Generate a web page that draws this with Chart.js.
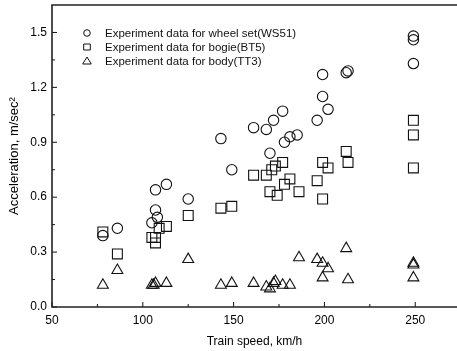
<!DOCTYPE html>
<html>
<head>
<meta charset="utf-8">
<script src="https://cdn.jsdelivr.net/npm/chart.js@4.4.1/dist/chart.umd.min.js"></script>
<style>
  html, body { margin: 0; padding: 0; background: #fff; }
  #wrap { width: 457px; height: 351px; }
</style>
</head>
<body>
<div id="wrap"><canvas id="myChart"></canvas></div>
<script>
// wheel set (WS51)
const wsSpeed = [78, 86, 105, 107, 108, 107, 113, 125, 143, 149, 161, 168, 170, 172, 177, 178, 181, 185, 196, 199, 202, 199, 212, 213, 249, 249, 249];
const wsAcc   = [0.39, 0.43, 0.46, 0.53, 0.49, 0.64, 0.67, 0.59, 0.92, 0.75, 0.98, 0.97, 0.84, 1.02, 1.07, 0.90, 0.93, 0.94, 1.02, 1.15, 1.08, 1.27, 1.28, 1.29, 1.33, 1.46, 1.48];
// bogie (BT5)
const btSpeed = [78, 86, 105, 107, 107, 109, 113, 125, 143, 149, 161, 168, 170, 171, 173, 174, 177, 178, 181, 186, 196, 199, 199, 202, 212, 213, 249, 249, 249];
const btAcc   = [0.41, 0.29, 0.38, 0.38, 0.35, 0.43, 0.44, 0.50, 0.54, 0.55, 0.72, 0.72, 0.63, 0.75, 0.77, 0.61, 0.79, 0.67, 0.70, 0.63, 0.69, 0.79, 0.59, 0.76, 0.85, 0.79, 1.02, 0.94, 0.76];
// body (TT3)
const ttSpeed = [78, 86, 105, 106, 107, 113, 125, 143, 149, 161, 168, 170, 172, 173, 177, 181, 186, 196, 199, 199, 202, 212, 213, 249, 249, 249];
const ttAcc   = [0.12, 0.20, 0.12, 0.12, 0.13, 0.13, 0.26, 0.12, 0.13, 0.13, 0.11, 0.10, 0.13, 0.14, 0.12, 0.12, 0.27, 0.26, 0.24, 0.16, 0.21, 0.32, 0.15, 0.24, 0.23, 0.16];

const legendLabels = ['Experiment data for wheel set(WS51)', 'Experiment data for bogie(BT5)', 'Experiment data for body(TT3)'];
const xTicks = [50, 100, 150, 200, 250];
const yTicks = [0, 0.3, 0.6, 0.9, 1.2, 1.5];

const FONT = '"Liberation Sans", Arial, sans-serif';

function pts(xs, ys) {
  return xs.map((x, i) => ({x: x, y: ys[i]}));
}

function ds(label, xs, ys, style, r) {
  return {
    label: label,
    data: pts(xs, ys),
    pointStyle: style,
    pointRadius: r,
    pointHoverRadius: r,
    pointBackgroundColor: 'rgba(0,0,0,0)',
    pointBorderColor: '#111',
    pointBorderWidth: 1.1
  };
}

// frame + inward ticks, plus the legend inside the plot
const frameTicks = {
  id: 'frameTicks',
  afterDatasetsDraw(chart) {
    const {ctx, chartArea: a, scales: {x, y}} = chart;
    ctx.save();
    ctx.strokeStyle = '#111';
    ctx.lineWidth = 1;
    ctx.beginPath();
    for (let i = 0; i < xTicks.length; i++) {
      const v = xTicks[i];
      let px = x.getPixelForValue(v);
      ctx.moveTo(px, a.bottom); ctx.lineTo(px, a.bottom - 5);
      px = x.getPixelForValue(v + 25);
      if (px < a.right) { ctx.moveTo(px, a.bottom); ctx.lineTo(px, a.bottom - 3); }
    }
    for (let i = 0; i < yTicks.length; i++) {
      const v = yTicks[i];
      let py = y.getPixelForValue(v);
      ctx.moveTo(a.left, py); ctx.lineTo(a.left + 5, py);
      py = y.getPixelForValue(v + 0.15);
      if (py > a.top) { ctx.moveTo(a.left, py); ctx.lineTo(a.left + 3, py); }
    }
    ctx.stroke();

    ctx.lineWidth = 1.6;
    ctx.strokeStyle = '#222';
    ctx.beginPath();
    ctx.moveTo(a.right + 2, a.top);
    ctx.lineTo(a.left, a.top);
    ctx.lineTo(a.left, a.bottom);
    ctx.lineTo(a.right + 2, a.bottom);
    ctx.stroke();

    // legend
    const sx = a.left + 35, tx = a.left + 53;
    ctx.lineWidth = 1;
    ctx.strokeStyle = '#111';
    ctx.fillStyle = '#111';
    ctx.font = '11.5px ' + FONT;
    ctx.textBaseline = 'middle';
    legendLabels.forEach((t, i) => {
      const cy = a.top + 28 + i * 14;
      ctx.beginPath();
      if (i === 0) {
        ctx.arc(sx, cy, 3.3, 0, Math.PI * 2);
      } else if (i === 1) {
        ctx.rect(sx - 3.3, cy - 3, 6.6, 6);
      } else {
        ctx.moveTo(sx, cy - 4);
        ctx.lineTo(sx + 4.3, cy + 3);
        ctx.lineTo(sx - 4.3, cy + 3);
        ctx.closePath();
      }
      ctx.stroke();
      ctx.fillText(t, tx, cy + 0.5);
    });
    ctx.restore();
  }
};

const config = {
  type: 'scatter',
  data: {
    datasets: [
      ds(legendLabels[0], wsSpeed, wsAcc, 'circle', 5.2),
      ds(legendLabels[1], btSpeed, btAcc, 'rect', 7),
      ds(legendLabels[2], ttSpeed, ttAcc, 'triangle', 6.3)
    ]
  },
  options: {
    responsive: true,
    maintainAspectRatio: false,
    animation: false,
    layout: { autoPadding: false, padding: { top: 5, right: 0, left: 0, bottom: 0 } },
    plugins: { legend: { display: false }, tooltip: { enabled: false } },
    scales: {
      x: {
        type: 'linear',
        min: 50,
        max: 273,
        afterFit: s => { s.height = 44; s.paddingLeft = 0; s.paddingRight = 0; },
        grid: { display: false, drawTicks: false },
        border: { display: false },
        ticks: {
          stepSize: 50,
          includeBounds: false,
          padding: 6,
          color: '#000',
          font: { family: FONT, size: 12 },
          callback: v => xTicks.includes(v) ? String(v) : ''
        },
        title: {
          display: true,
          text: 'Train speed, km/h',
          color: '#000',
          font: { family: FONT, size: 12 },
          padding: { top: 0, bottom: 2 }
        }
      },
      y: {
        min: 0,
        max: 1.65,
        afterFit: s => { s.width = 52; s.paddingTop = 0; s.paddingBottom = 0; },
        grid: { display: false, drawTicks: false },
        border: { display: false },
        ticks: {
          stepSize: 0.3,
          includeBounds: false,
          padding: 5,
          color: '#000',
          font: { family: FONT, size: 12 },
          callback: v => v.toFixed(1)
        },
        title: {
          display: true,
          text: 'Acceleration, m/sec²',
          color: '#000',
          font: { family: FONT, size: 13 },
          padding: { top: 7, bottom: 0 }
        }
      }
    }
  },
  plugins: [frameTicks]
};

var myChart = new Chart(document.getElementById('myChart'), config);
</script>
</body>
</html>
